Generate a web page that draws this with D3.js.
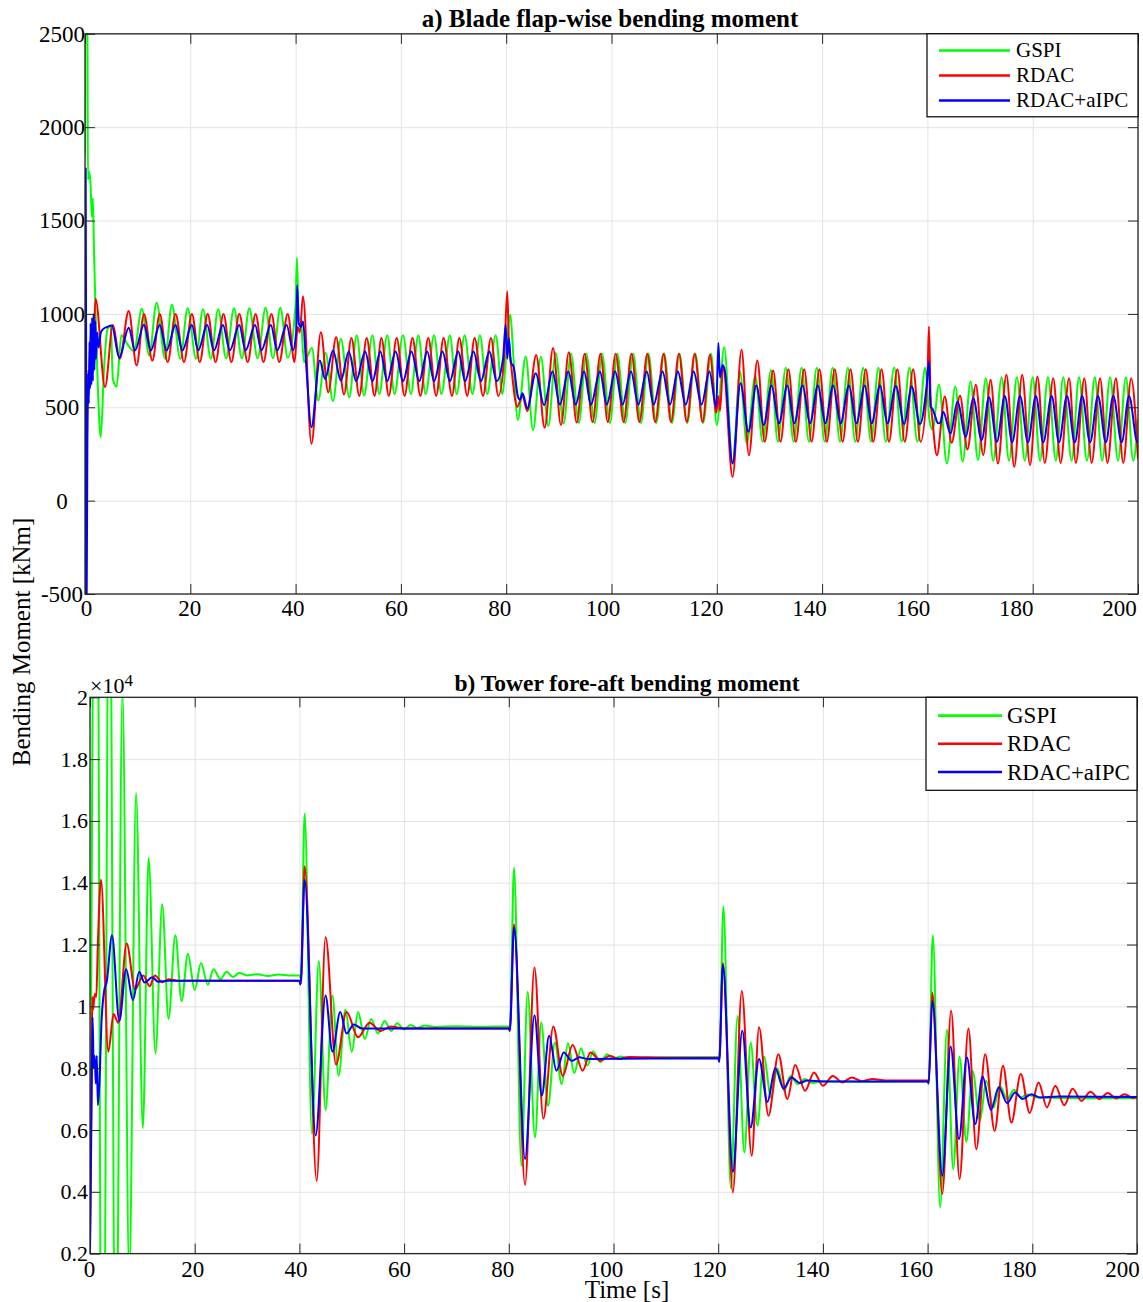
<!DOCTYPE html>
<html><head><meta charset="utf-8">
<script src="https://cdn.jsdelivr.net/npm/d3@7"></script>
<style>
body{margin:0;background:#fff}
svg{display:block}
text{font-family:"Liberation Serif","Times New Roman",serif;fill:#000}
</style>
</head><body>
<svg id="chart" width="1143" height="1302"></svg>
<script>
// ---------------- data ----------------
const xTicks = [0,20,40,60,80,100,120,140,160,180,200];
const bladeYTicks = [-500,0,500,1000,1500,2000,2500];
const towerYTicks = [0.2,0.4,0.6,0.8,1,1.2,1.4,1.6,1.8,2];
const seriesNames = ["GSPI","RDAC","RDAC+aIPC"];
const seriesColors = ["#00ff00","#ff0000","#0000ff"];

// a) Blade flap-wise bending moment [kNm]  ([time s, value])
const bladeGSPI = [[0,1850],[0.08,2700],[0.45,2700],[0.55,1720],[0.8,1760],[1.05,1700],[1.3,1520],[1.5,1620],[1.7,1350],[2.1,900],[2.5,560],[3.0,340],[3.6,700],[4.3,920],[4.9,935],[5.3,650],[6.0,610],[6.9,885],[8.0,840],[9.3,800],[10.8,1027],[12.2,777],[13.6,1060],[15.2,760],[16.5,1049],[18.1,760],[19.5,1030],[21.1,760],[22.4,1025],[23.9,760],[25.3,1025],[26.8,762],[28.3,1030],[29.8,762],[31.2,1030],[32.8,762],[34.3,1033],[35.7,762],[37.1,1033],[38.5,765],[40.0,1050],[40.25,1300],[40.6,980],[41.0,965],[41.6,742],[43.1,818],[44.3,536],[45.7,790],[47.1,533],[48.6,867],[50.2,554],[51.6,885],[53.0,563],[54.6,885],[55.9,571],[57.4,885],[58.8,571],[60.4,885],[61.9,571],[63.3,885],[64.7,571],[66.3,885],[67.7,571],[69.3,885],[70.6,571],[72.1,885],[73.6,571],[75.0,885],[76.4,571],[78.0,885],[79.3,571],[80.0,780],[80.8,996],[81.3,800],[82.2,432],[83.7,772],[85.1,378],[86.6,770],[88.0,400],[89.4,790],[90.9,413],[92.3,788],[93.8,415],[95.2,788],[96.8,415],[98.2,788],[99.7,415],[101.1,788],[102.6,415],[104.1,788],[105.6,415],[107.0,788],[108.5,415],[110.0,788],[111.5,415],[112.9,788],[114.4,415],[115.9,788],[117.4,415],[118.9,788],[120.0,405],[121.4,822],[123.0,200],[124.4,691],[125.7,306],[127.3,668],[128.7,315],[130.3,700],[131.6,315],[133.1,712],[134.6,315],[136.1,712],[137.5,315],[139.0,712],[140.5,315],[142.0,712],[143.4,315],[144.9,712],[146.3,315],[147.8,712],[149.3,315],[150.7,712],[152.1,315],[153.7,713],[155.1,315],[156.6,713],[158.1,315],[159.6,713],[160.4,430],[161.0,380],[162.2,620],[163.7,199],[165.3,611],[166.7,208],[168.2,638],[169.6,217],[171.1,656],[172.5,213],[174.1,661],[175.5,213],[177.0,661],[178.5,213],[180.0,661],[181.4,213],[182.9,661],[184.4,213],[185.8,661],[187.4,213],[188.8,661],[190.3,213],[191.8,661],[193.2,213],[194.7,661],[196.2,213],[197.7,661],[199.1,213],[200,440]];

const bladeRDAC = [[0,300],[0.1,1150],[0.22,-150],[0.35,250],[0.6,700],[0.9,620],[1.2,850],[1.5,780],[2.0,1081],[3.8,608],[5.3,940],[6.6,760],[8.3,1015],[9.8,724],[11.2,1000],[12.8,750],[14.2,1000],[15.7,742],[17.2,1000],[18.8,742],[20.3,1000],[21.8,742],[23.3,1000],[24.8,742],[26.3,1000],[27.8,742],[29.3,1000],[30.9,742],[32.4,1000],[33.9,742],[35.4,1000],[36.9,742],[38.5,1000],[39.8,742],[40.4,930],[40.8,900],[41.4,1094],[43.0,304],[44.8,902],[46.2,580],[47.7,875],[49.2,568],[50.6,871],[52.1,561],[53.5,871],[55.0,561],[56.3,871],[57.7,561],[59.2,871],[60.7,561],[62.2,871],[63.7,561],[65.2,871],[66.7,561],[68.1,871],[69.7,561],[71.1,871],[72.6,561],[74.0,871],[75.6,561],[77.1,871],[78.5,561],[79.6,760],[80.2,1121],[80.5,850],[80.9,736],[82.1,503],[83.1,560],[84.0,480],[85.7,780],[87.3,390],[88.9,817],[90.4,405],[91.9,795],[93.4,418],[94.9,787],[96.4,420],[97.9,787],[99.3,420],[100.8,787],[102.3,420],[103.8,787],[105.3,420],[106.8,787],[108.3,420],[109.9,787],[111.3,420],[112.8,787],[114.3,420],[115.8,787],[117.3,420],[118.7,781],[119.9,470],[120.3,560],[120.6,480],[121.2,720],[123.0,127],[124.7,808],[126.1,243],[127.7,751],[129.1,315],[130.7,697],[132.1,315],[133.6,704],[135.0,315],[136.6,704],[138.0,315],[139.5,704],[140.9,315],[142.4,704],[143.9,315],[145.4,704],[146.8,315],[148.3,704],[149.7,315],[151.3,704],[152.7,315],[154.3,704],[155.7,315],[157.3,704],[158.7,315],[160.0,650],[160.3,933],[160.6,560],[161.0,420],[161.8,243],[163.3,557],[164.6,310],[166.2,562],[167.6,274],[169.2,620],[170.6,243],[172.0,647],[173.4,199],[175.0,674],[176.5,181],[178.0,674],[179.5,190],[180.9,665],[182.3,202],[183.9,656],[185.3,202],[186.9,656],[188.2,202],[189.8,656],[191.2,202],[192.8,656],[194.2,202],[195.8,656],[197.2,202],[198.7,656],[200,220]];

const bladeAIPC = [[0,-600],[0.13,1780],[0.22,600],[0.3,-600],[0.45,300],[0.6,680],[0.72,520],[0.85,850],[0.95,600],[1.05,950],[1.2,620],[1.35,980],[1.5,640],[1.65,1000],[1.8,700],[1.95,960],[2.1,760],[2.3,900],[2.6,820],[3.0,900],[3.5,920],[4.2,930],[5.1,938],[6.5,765],[8.3,926],[9.5,804],[11.2,942],[12.5,804],[14.2,940],[15.5,805],[17.2,940],[18.5,805],[20.3,940],[21.5,805],[23.2,940],[24.5,805],[26.2,940],[27.5,805],[29.3,940],[30.5,805],[32.3,940],[33.5,805],[35.3,940],[36.5,805],[38.3,940],[39.5,805],[40.1,900],[40.3,1153],[40.6,950],[41.0,930],[41.4,960],[42.0,730],[43.0,393],[44.6,750],[45.6,652],[47.1,804],[48.6,643],[50.1,799],[51.5,640],[53.2,799],[54.6,640],[56.1,799],[57.4,640],[59.0,799],[60.4,640],[62.0,799],[63.5,640],[65.0,799],[66.3,640],[67.9,799],[69.3,640],[70.9,799],[72.2,640],[73.8,799],[75.2,640],[76.8,799],[78.2,640],[79.4,760],[79.9,942],[80.2,760],[80.5,870],[80.9,740],[81.4,718],[82.2,560],[82.6,540],[83.1,575],[84.0,494],[85.6,682],[87.2,512],[88.8,691],[90.2,515],[91.8,691],[93.2,515],[94.8,691],[96.1,515],[97.8,691],[99.1,515],[100.7,691],[102.1,515],[103.7,691],[105.1,515],[106.7,691],[108.0,515],[109.7,691],[111.1,515],[112.6,691],[114.1,515],[115.6,691],[117.1,515],[118.6,691],[119.9,500],[120.3,844],[120.6,660],[121.1,727],[121.5,700],[123.0,199],[124.5,629],[126.0,369],[127.5,616],[128.9,405],[130.4,616],[131.8,414],[133.4,616],[134.7,414],[136.3,616],[137.7,414],[139.2,616],[140.6,414],[142.1,616],[143.5,414],[145.1,616],[146.5,414],[148.1,616],[149.4,414],[151.0,616],[152.4,414],[154.0,614],[155.6,410],[157.0,611],[158.6,410],[159.8,600],[160.3,745],[160.6,503],[161.0,490],[161.5,450],[162.0,414],[162.5,420],[163.0,476],[164.4,360],[165.7,530],[167.3,342],[168.7,548],[170.3,324],[171.7,554],[173.2,315],[174.7,561],[176.1,312],[177.6,561],[179.1,312],[180.6,561],[182.0,312],[183.6,561],[185.0,312],[186.5,561],[188.0,312],[189.4,561],[190.9,312],[192.4,561],[193.9,312],[195.3,561],[196.9,312],[198.3,561],[199.9,312],[200,320]];

// b) Tower fore-aft bending moment [x10^4 kNm]
const towerGSPI = [[0,0.2],[1.2,3.2],[2.4,-1.0],[3.7,2.7],[4.9,-0.4],[6.2,2.02],[7.5,0.12],[8.8,1.69],[10.1,0.606],[11.2,1.48],[12.5,0.847],[13.8,1.33],[15.0,0.96],[16.3,1.23],[17.5,1.017],[18.7,1.17],[20.0,1.053],[21.2,1.14],[22.5,1.07],[23.6,1.12],[24.9,1.088],[26.1,1.112],[27.3,1.095],[28.5,1.108],[30,1.1],[32,1.104],[34,1.098],[36,1.103],[38,1.1],[40.0,1.1],[40.3,1.09],[41.0,1.624],[42.4,0.588],[43.7,1.147],[45.0,0.665],[46.3,1.035],[47.5,0.776],[48.8,0.99],[50.0,0.853],[51.2,0.982],[52.5,0.894],[53.7,0.959],[55.0,0.912],[56.3,0.953],[57.5,0.92],[58.7,0.945],[60.0,0.925],[61.2,0.94],[62.5,0.93],[64,0.938],[66,0.933],[70,0.936],[75,0.934],[80.0,0.935],[80.2,0.93],[81.0,1.449],[82.4,0.484],[83.6,1.047],[85.0,0.576],[86.2,0.948],[87.5,0.678],[88.8,0.883],[90.1,0.748],[91.3,0.881],[92.5,0.784],[93.8,0.864],[95.0,0.808],[96.1,0.854],[97.5,0.82],[98.8,0.845],[100,0.83],[101.3,0.838],[103,0.833],[110,0.835],[120.0,0.835],[120.2,0.83],[121.0,1.323],[122.4,0.411],[123.7,0.969],[125.0,0.527],[126.2,0.883],[127.5,0.614],[128.7,0.838],[130.1,0.705],[131.3,0.8],[132.6,0.727],[133.8,0.775],[135.2,0.748],[136.5,0.765],[138,0.752],[140,0.758],[150,0.756],[160.0,0.757],[160.2,0.75],[161.0,1.23],[162.4,0.35],[163.7,0.924],[164.9,0.473],[166.1,0.838],[167.4,0.562],[168.6,0.791],[170.0,0.63],[171.2,0.759],[172.6,0.673],[173.8,0.743],[175.2,0.7],[176.5,0.73],[177.8,0.705],[179,0.715],[181,0.705],[190,0.703],[200,0.703]];

const towerRDAC = [[0,0.25],[0.3,0.8],[0.45,1.03],[0.6,0.99],[0.9,1.04],[1.2,1.03],[1.5,1.2],[2.1,1.41],[3.5,0.853],[4.5,0.975],[5.4,0.947],[7.0,1.203],[8.6,1.055],[10.2,1.1],[11.4,1.065],[12.4,1.1],[13.8,1.078],[15,1.088],[17,1.082],[20,1.083],[40.0,1.083],[40.3,1.075],[41.0,1.453],[43.3,0.435],[45.0,1.224],[47.0,0.812],[49.0,0.982],[51.2,0.9],[53.4,0.947],[55.5,0.92],[57.5,0.935],[60,0.928],[80.0,0.928],[80.2,0.925],[81.0,1.266],[83.1,0.422],[84.9,1.126],[86.6,0.637],[88.5,0.935],[90.3,0.775],[92.2,0.875],[94.1,0.792],[95.6,0.851],[97.5,0.824],[99.3,0.84],[101,0.83],[103,0.836],[110,0.834],[120.0,0.834],[120.2,0.83],[120.9,1.14],[122.8,0.398],[124.5,1.05],[126.4,0.517],[127.8,0.932],[129.6,0.646],[131.5,0.845],[133.2,0.7],[134.7,0.81],[136.6,0.727],[138.3,0.786],[140.0,0.743],[141.9,0.775],[143.7,0.754],[145.5,0.77],[147.5,0.758],[149.5,0.765],[152,0.76],[160.0,0.76],[160.2,0.755],[160.9,1.045],[162.8,0.393],[164.5,0.986],[166.1,0.441],[167.8,0.928],[169.3,0.538],[171.0,0.845],[172.8,0.597],[174.4,0.808],[176.0,0.624],[177.8,0.781],[179.5,0.655],[181.2,0.754],[182.8,0.673],[184.4,0.743],[186.1,0.68],[187.7,0.733],[189.4,0.694],[191.1,0.724],[192.8,0.7],[194.4,0.72],[196.1,0.702],[197.6,0.716],[199.3,0.703],[200,0.708]];

const towerAIPC = [[0,0.2],[0.25,0.6],[0.5,0.965],[0.7,0.8],[0.9,0.84],[1.1,0.75],[1.3,0.84],[1.5,0.68],[1.8,0.75],[2.2,0.95],[2.7,1.05],[3.2,1.08],[4.2,1.23],[5.6,0.953],[6.9,1.12],[8.2,1.02],[9.4,1.112],[10.4,1.077],[11.9,1.094],[13,1.08],[15,1.083],[40.0,1.083],[40.2,1.07],[41.0,1.41],[43.1,0.582],[45.0,1.035],[46.3,0.853],[47.8,0.982],[49.0,0.912],[50.4,0.941],[52,0.928],[80.0,0.928],[80.2,0.92],[81.0,1.255],[83.1,0.506],[84.9,0.971],[86.3,0.711],[87.7,0.905],[89.1,0.792],[90.5,0.851],[92.0,0.824],[93.5,0.835],[95,0.83],[120.0,0.832],[120.2,0.82],[120.9,1.134],[122.8,0.465],[124.6,0.921],[126.2,0.608],[127.8,0.83],[129.4,0.691],[130.9,0.8],[132.5,0.734],[134.0,0.77],[135.6,0.752],[137,0.76],[140,0.757],[160.0,0.757],[160.2,0.75],[160.9,1.018],[162.8,0.452],[164.4,0.87],[166.0,0.57],[167.5,0.835],[169.1,0.619],[170.5,0.773],[172.1,0.665],[173.6,0.738],[175.2,0.687],[176.7,0.721],[178.2,0.7],[179.8,0.716],[181.5,0.705],[185,0.708],[200,0.707]];

// ---------------- drawing ----------------
const svg = d3.select("#chart");
const FONT = '"Liberation Serif","Times New Roman",serif';

function drawPanel(cfg) {
  const {id, left, right, top, bottom, yDomain, yTicks, series, title, titleX, titleY, titleFont,
         labelX0, labelX1, yLabelMode, yLabelX, xLabelY, tickFont, yTickFont, legend} = cfg;
  const x = d3.scaleLinear().domain([0, 200]).range([left, right]);
  const y = d3.scaleLinear().domain(yDomain).range([bottom, top]);
  const labelScale = d3.scaleLinear().domain([0, 200]).range([labelX0, labelX1]);
  const g = svg.append("g");

  svg.append("clipPath").attr("id", "clip" + id)
    .append("rect").attr("x", left).attr("y", top).attr("width", right - left).attr("height", bottom - top);

  // grid
  g.append("g").attr("transform", `translate(0,${bottom})`)
    .call(d3.axisBottom(x).tickValues(xTicks).tickSize(-(bottom - top)).tickFormat(""))
    .call(a => a.select(".domain").remove())
    .call(a => a.selectAll("line").attr("stroke", "#e3e3e3").attr("stroke-width", 1));
  g.append("g").attr("transform", `translate(${left},0)`)
    .call(d3.axisLeft(y).tickValues(yTicks).tickSize(-(right - left)).tickFormat(""))
    .call(a => a.select(".domain").remove())
    .call(a => a.selectAll("line").attr("stroke", "#e3e3e3").attr("stroke-width", 1));

  // lines
  const line = d3.line().x(d => x(d[0])).y(d => y(d[1])).curve(d3.curveMonotoneX);
  const lg = g.append("g").attr("clip-path", `url(#clip${id})`);
  series.forEach((s, i) => {
    lg.append("path").datum(s).attr("d", line)
      .attr("fill", "none").attr("stroke", seriesColors[i])
      .attr("stroke-width", 2).attr("stroke-linejoin", "round");
  });

  // inward ticks on all four sides
  const axColor = "#262626";
  const bottomAx = g.append("g").attr("transform", `translate(0,${bottom})`)
    .call(d3.axisBottom(x).tickValues(xTicks).tickSizeInner(-10).tickSizeOuter(0).tickFormat(d => String(d)));
  bottomAx.select(".domain").remove();
  bottomAx.selectAll("line").attr("stroke", axColor);
  bottomAx.selectAll("text").attr("x", d => labelScale(d) - x(d)).attr("dy", null)
    .attr("y", xLabelY - bottom).attr("font-size", tickFont).attr("font-family", FONT).attr("fill", "#000");

  const topAx = g.append("g").attr("transform", `translate(0,${top})`)
    .call(d3.axisTop(x).tickValues(xTicks).tickSizeInner(-10).tickSizeOuter(0).tickFormat(""));
  topAx.select(".domain").remove();
  topAx.selectAll("line").attr("stroke", axColor);

  const leftAx = g.append("g").attr("transform", `translate(${left},0)`)
    .call(d3.axisLeft(y).tickValues(yTicks).tickSizeInner(-10).tickSizeOuter(0).tickFormat(d => String(d)));
  leftAx.select(".domain").remove();
  leftAx.selectAll("line").attr("stroke", axColor);
  leftAx.selectAll("text").attr("x", yLabelX - left).attr("text-anchor", yLabelMode)
    .attr("font-size", yTickFont).attr("font-family", FONT).attr("fill", "#000");

  const rightAx = g.append("g").attr("transform", `translate(${right},0)`)
    .call(d3.axisRight(y).tickValues(yTicks).tickSizeInner(-10).tickSizeOuter(0).tickFormat(""));
  rightAx.select(".domain").remove();
  rightAx.selectAll("line").attr("stroke", axColor);

  g.append("rect").attr("x", left).attr("y", top).attr("width", right - left).attr("height", bottom - top)
    .attr("fill", "none").attr("stroke", axColor).attr("stroke-width", 1.3);

  // title
  g.append("text").attr("x", titleX).attr("y", titleY).attr("text-anchor", "middle")
    .attr("font-weight", "bold").attr("font-size", titleFont).text(title);

  // legend
  const L = legend;
  g.append("rect").attr("x", L.x0).attr("y", top).attr("width", right - L.x0).attr("height", L.h)
    .attr("fill", "#fff").attr("stroke", "#000").attr("stroke-width", 1.2);
  seriesNames.forEach((n, i) => {
    const ry = L.row0 + i * L.dy;
    g.append("line").attr("x1", L.lx0).attr("x2", L.lx1).attr("y1", ry).attr("y2", ry)
      .attr("stroke", seriesColors[i]).attr("stroke-width", 2.6);
    g.append("text").attr("x", L.tx).attr("y", ry + L.fs * 0.33).attr("font-size", L.fs).text(n);
  });
  return {x, y};
}

drawPanel({
  id: "a", left: 85, right: 1138, top: 33.8, bottom: 594,
  yDomain: [-500, 2500], yTicks: bladeYTicks,
  series: [bladeGSPI, bladeRDAC, bladeAIPC],
  title: "a) Blade flap-wise bending moment", titleX: 610, titleY: 27, titleFont: 25,
  labelX0: 86, labelX1: 1119, yLabelMode: "middle", yLabelX: 62, xLabelY: 616,
  tickFont: 23, yTickFont: 23,
  legend: {x0: 927, h: 83, row0: 50.5, dy: 25, lx0: 939, lx1: 1010, tx: 1016, fs: 21}
});

drawPanel({
  id: "b", left: 90, right: 1137, top: 697.3, bottom: 1253.6,
  yDomain: [0.2, 2], yTicks: towerYTicks,
  series: [towerGSPI, towerRDAC, towerAIPC],
  title: "b) Tower fore-aft bending moment", titleX: 627, titleY: 691, titleFont: 23.5,
  labelX0: 89, labelX1: 1122, yLabelMode: "end", yLabelX: 88, xLabelY: 1277,
  tickFont: 23, yTickFont: 22,
  legend: {x0: 926, h: 93, row0: 715.6, dy: 28.2, lx0: 938, lx1: 1002, tx: 1007, fs: 23}
});

// exponent label
const ex = svg.append("text").attr("x", 90).attr("y", 693).attr("font-size", 22);
ex.append("tspan").text("×10");
ex.append("tspan").attr("font-size", 17).attr("dy", -7).text("4");

// shared axis labels
svg.append("text").attr("transform", "translate(30,642) rotate(-90)").attr("text-anchor", "middle")
  .attr("font-size", 25).text("Bending Moment [kNm]");
svg.append("text").attr("x", 627).attr("y", 1298).attr("text-anchor", "middle")
  .attr("font-size", 25).text("Time [s]");
</script>
</body></html>
